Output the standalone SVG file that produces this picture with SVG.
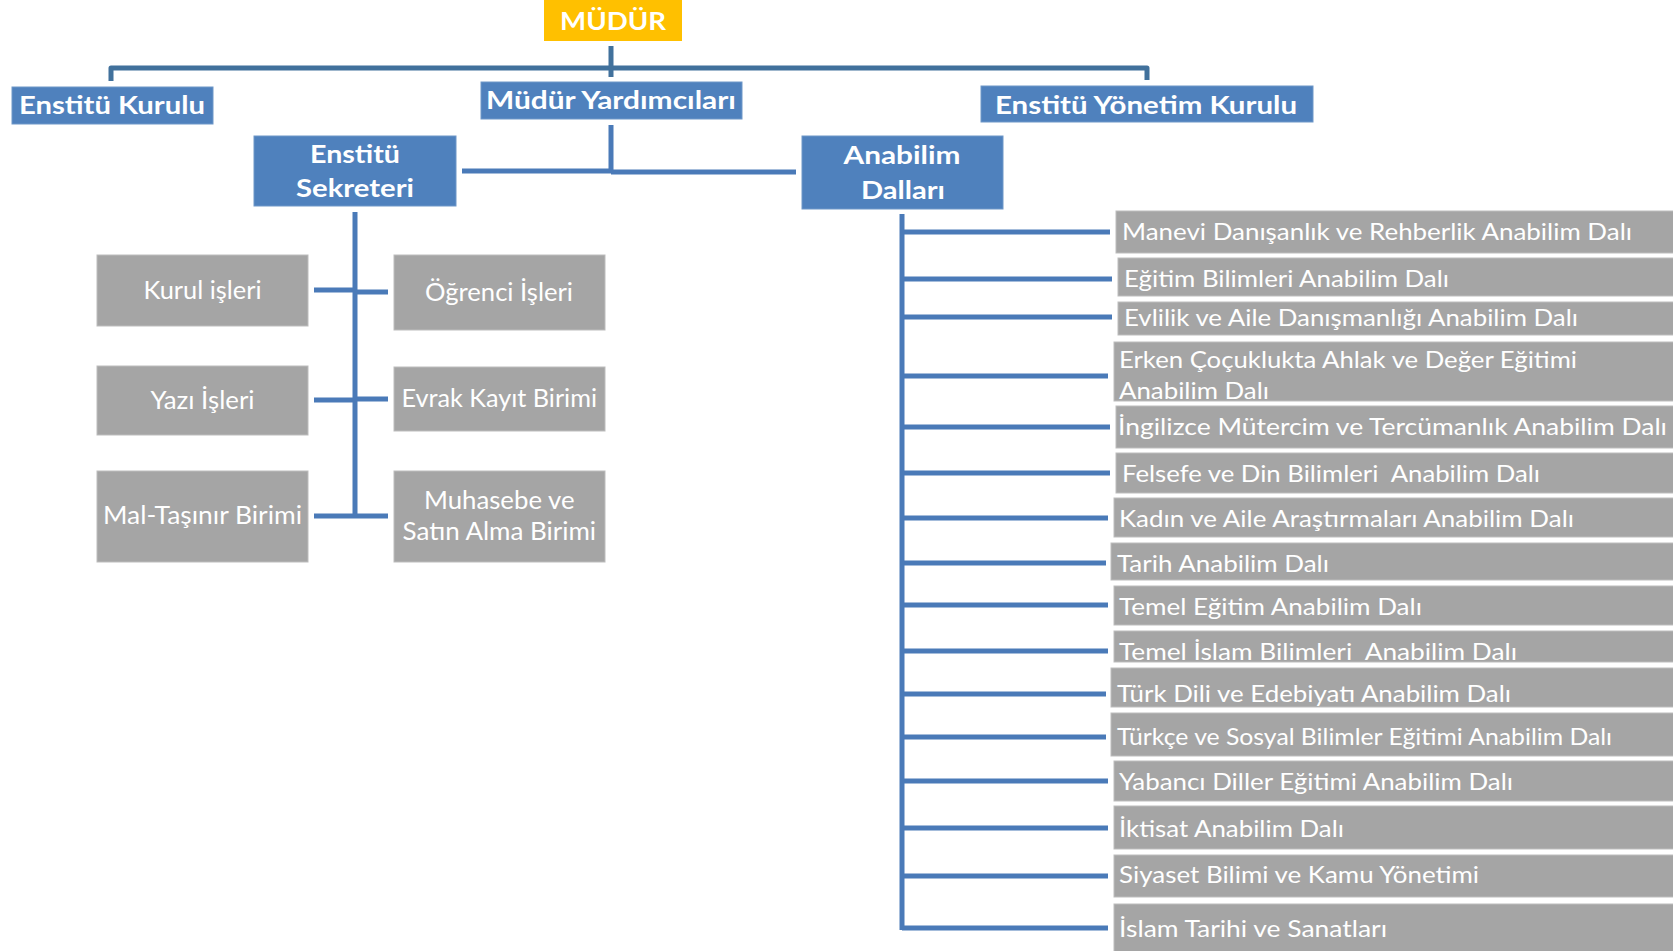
<svg xmlns="http://www.w3.org/2000/svg" width="1673" height="951" viewBox="0 0 1673 951">
<style>
.bg{fill:#fff}
.blue{fill:#4F81BD;stroke:#6F97C8;stroke-width:1}
.gold{fill:#FFC000}
.grey{fill:#A5A5A5;stroke:#BDBDBD;stroke-width:1}
.tb{font-family:Lato,"Liberation Sans",sans-serif;font-weight:bold;fill:#fff;font-size:25.5px}
.tg{font-family:Lato,"Liberation Sans",sans-serif;fill:#fff;font-size:25px}
.tr{font-family:Lato,"Liberation Sans",sans-serif;fill:#fff;font-size:22.5px;white-space:pre}
.c1{fill:none;stroke:#41719C;stroke-width:5;stroke-linejoin:round}
.c2{fill:none;stroke:#4A7AB8;stroke-width:5}
</style>
<rect class="bg" x="0" y="0" width="1673" height="951"/>
<g id="connectors">
<path class="c1" d="M111,81 V68 H1147 V80"/>
<path class="c1" d="M611,46 V77"/>
<path class="c2" d="M611,125 V172 M462,171 H611 M611,172 H796"/>
<path class="c2" d="M355,212 V516"/>
<path class="c2" d="M314,290 H355 M355,292 H388 M314,400 H355 M355,399 H388 M314,516 H388"/>
<path class="c2" d="M902,214 V930"/>
<path class="c2" d="M902,232 H1110 M902,279 H1112 M902,317 H1112 M902,376 H1108 M902,427 H1110 M902,473 H1110 M902,518 H1108 M902,563 H1106 M902,605 H1108 M902,651 H1108 M902,694 H1106 M902,737 H1106 M902,781 H1108 M902,828 H1108 M902,876 H1108 M902,928 H1108"/>
</g>
<g id="mudur"><rect class="gold" x="544" y="0" width="138" height="41"/><text class="tb" x="560" y="29.5" font-size="27" textLength="106" lengthAdjust="spacingAndGlyphs">MÜDÜR</text></g>
<g id="enstitu-kurulu"><rect class="blue" x="12" y="87" width="201" height="37"/><text class="tb" x="19" y="113.5" textLength="186" lengthAdjust="spacingAndGlyphs">Enstitü Kurulu</text></g>
<g id="mudur-yardimcilari"><rect class="blue" x="481" y="82" width="261" height="37"/><text class="tb" x="486" y="109" textLength="250" lengthAdjust="spacingAndGlyphs">Müdür Yardımcıları</text></g>
<g id="enstitu-yonetim-kurulu"><rect class="blue" x="981" y="86" width="332" height="36"/><text class="tb" x="995" y="113.5" textLength="302" lengthAdjust="spacingAndGlyphs">Enstitü Yönetim Kurulu</text></g>
<g id="enstitu-sekreteri"><rect class="blue" x="254" y="136" width="202" height="70"/><text class="tb" x="310" y="162.5" textLength="90" lengthAdjust="spacingAndGlyphs">Enstitü</text><text class="tb" x="296" y="197" textLength="118" lengthAdjust="spacingAndGlyphs">Sekreteri</text></g>
<g id="anabilim-dallari"><rect class="blue" x="802" y="136" width="201" height="73"/><text class="tb" x="843.5" y="163.5" textLength="117" lengthAdjust="spacingAndGlyphs">Anabilim</text><text class="tb" x="861" y="198.5" textLength="84" lengthAdjust="spacingAndGlyphs">Dalları</text></g>
<g id="kurul-isleri"><rect class="grey" x="97" y="255" width="211" height="71"/><text class="tg" x="143.5" y="298.5" textLength="118" lengthAdjust="spacingAndGlyphs">Kurul işleri</text></g>
<g id="ogrenci-isleri"><rect class="grey" x="394" y="255" width="211" height="75"/><text class="tg" x="425" y="300.5" textLength="148" lengthAdjust="spacingAndGlyphs">Öğrenci İşleri</text></g>
<g id="yazi-isleri"><rect class="grey" x="97" y="366" width="211" height="69"/><text class="tg" x="150.5" y="409" textLength="104" lengthAdjust="spacingAndGlyphs">Yazı İşleri</text></g>
<g id="evrak-kayit"><rect class="grey" x="394" y="367" width="211" height="64"/><text class="tg" x="401.5" y="406.5" textLength="195.5" lengthAdjust="spacingAndGlyphs">Evrak Kayıt Birimi</text></g>
<g id="mal-tasinir"><rect class="grey" x="97" y="471" width="211" height="91"/><text class="tg" x="103" y="523.5" textLength="199" lengthAdjust="spacingAndGlyphs">Mal-Taşınır Birimi</text></g>
<g id="muhasebe"><rect class="grey" x="394" y="471" width="211" height="91"/><text class="tg" x="424" y="508.5" textLength="150.5" lengthAdjust="spacingAndGlyphs">Muhasebe ve</text><text class="tg" x="402.5" y="539.5" textLength="193.5" lengthAdjust="spacingAndGlyphs">Satın Alma Birimi</text></g>
<g id="ad-manevi"><rect class="grey" x="1116" y="211" width="570" height="42"/><text class="tr" x="1122" y="239.5" textLength="510" lengthAdjust="spacingAndGlyphs">Manevi Danışanlık ve Rehberlik Anabilim Dalı</text></g>
<g id="ad-egitim-bilimleri"><rect class="grey" x="1118" y="258" width="570" height="38"/><text class="tr" x="1124" y="287" textLength="325" lengthAdjust="spacingAndGlyphs">Eğitim Bilimleri Anabilim Dalı</text></g>
<g id="ad-evlilik"><rect class="grey" x="1118" y="302" width="570" height="33"/><text class="tr" x="1124" y="325.5" textLength="454" lengthAdjust="spacingAndGlyphs">Evlilik ve Aile Danışmanlığı Anabilim Dalı</text></g>
<g id="ad-erken"><rect class="grey" x="1114" y="342" width="570" height="59"/><text class="tr" x="1119" y="367.5" textLength="458" lengthAdjust="spacingAndGlyphs">Erken Çoçuklukta Ahlak ve Değer Eğitimi</text><text class="tr" x="1119" y="398.5" textLength="150" lengthAdjust="spacingAndGlyphs">Anabilim Dalı</text></g>
<g id="ad-ingilizce"><rect class="grey" x="1116" y="406" width="570" height="42"/><text class="tr" x="1118" y="434.5" textLength="549" lengthAdjust="spacingAndGlyphs">İngilizce Mütercim ve Tercümanlık Anabilim Dalı</text></g>
<g id="ad-felsefe"><rect class="grey" x="1116" y="453" width="570" height="40"/><text class="tr" x="1122" y="481.5" textLength="418" lengthAdjust="spacingAndGlyphs" xml:space="preserve">Felsefe ve Din Bilimleri  Anabilim Dalı</text></g>
<g id="ad-kadin"><rect class="grey" x="1114" y="498" width="570" height="39"/><text class="tr" x="1119" y="527" textLength="455" lengthAdjust="spacingAndGlyphs">Kadın ve Aile Araştırmaları Anabilim Dalı</text></g>
<g id="ad-tarih"><rect class="grey" x="1111" y="543" width="570" height="37"/><text class="tr" x="1117" y="571.5" textLength="212" lengthAdjust="spacingAndGlyphs">Tarih Anabilim Dalı</text></g>
<g id="ad-temel-egitim"><rect class="grey" x="1114" y="586" width="570" height="39"/><text class="tr" x="1119" y="614.5" textLength="303" lengthAdjust="spacingAndGlyphs">Temel Eğitim Anabilim Dalı</text></g>
<g id="ad-temel-islam"><rect class="grey" x="1114" y="631" width="570" height="31"/><text class="tr" x="1119" y="659.5" textLength="398" lengthAdjust="spacingAndGlyphs" xml:space="preserve">Temel İslam Bilimleri  Anabilim Dalı</text></g>
<g id="ad-turk-dili"><rect class="grey" x="1111" y="668" width="570" height="39"/><text class="tr" x="1117" y="702" textLength="394" lengthAdjust="spacingAndGlyphs">Türk Dili ve Edebiyatı Anabilim Dalı</text></g>
<g id="ad-turkce-sosyal"><rect class="grey" x="1111" y="713" width="570" height="43"/><text class="tr" x="1117" y="744.5" textLength="495" lengthAdjust="spacingAndGlyphs">Türkçe ve Sosyal Bilimler Eğitimi Anabilim Dalı</text></g>
<g id="ad-yabanci"><rect class="grey" x="1114" y="761" width="570" height="40"/><text class="tr" x="1119" y="789.5" textLength="394" lengthAdjust="spacingAndGlyphs">Yabancı Diller Eğitimi Anabilim Dalı</text></g>
<g id="ad-iktisat"><rect class="grey" x="1114" y="806" width="570" height="43"/><text class="tr" x="1119" y="836.5" textLength="225" lengthAdjust="spacingAndGlyphs">İktisat Anabilim Dalı</text></g>
<g id="ad-siyaset"><rect class="grey" x="1114" y="855" width="570" height="42"/><text class="tr" x="1119" y="883" textLength="360" lengthAdjust="spacingAndGlyphs">Siyaset Bilimi ve Kamu Yönetimi</text></g>
<g id="ad-islam-tarihi"><rect class="grey" x="1114" y="904" width="570" height="60"/><text class="tr" x="1119" y="937" textLength="268" lengthAdjust="spacingAndGlyphs">İslam Tarihi ve Sanatları</text></g>
</svg>
